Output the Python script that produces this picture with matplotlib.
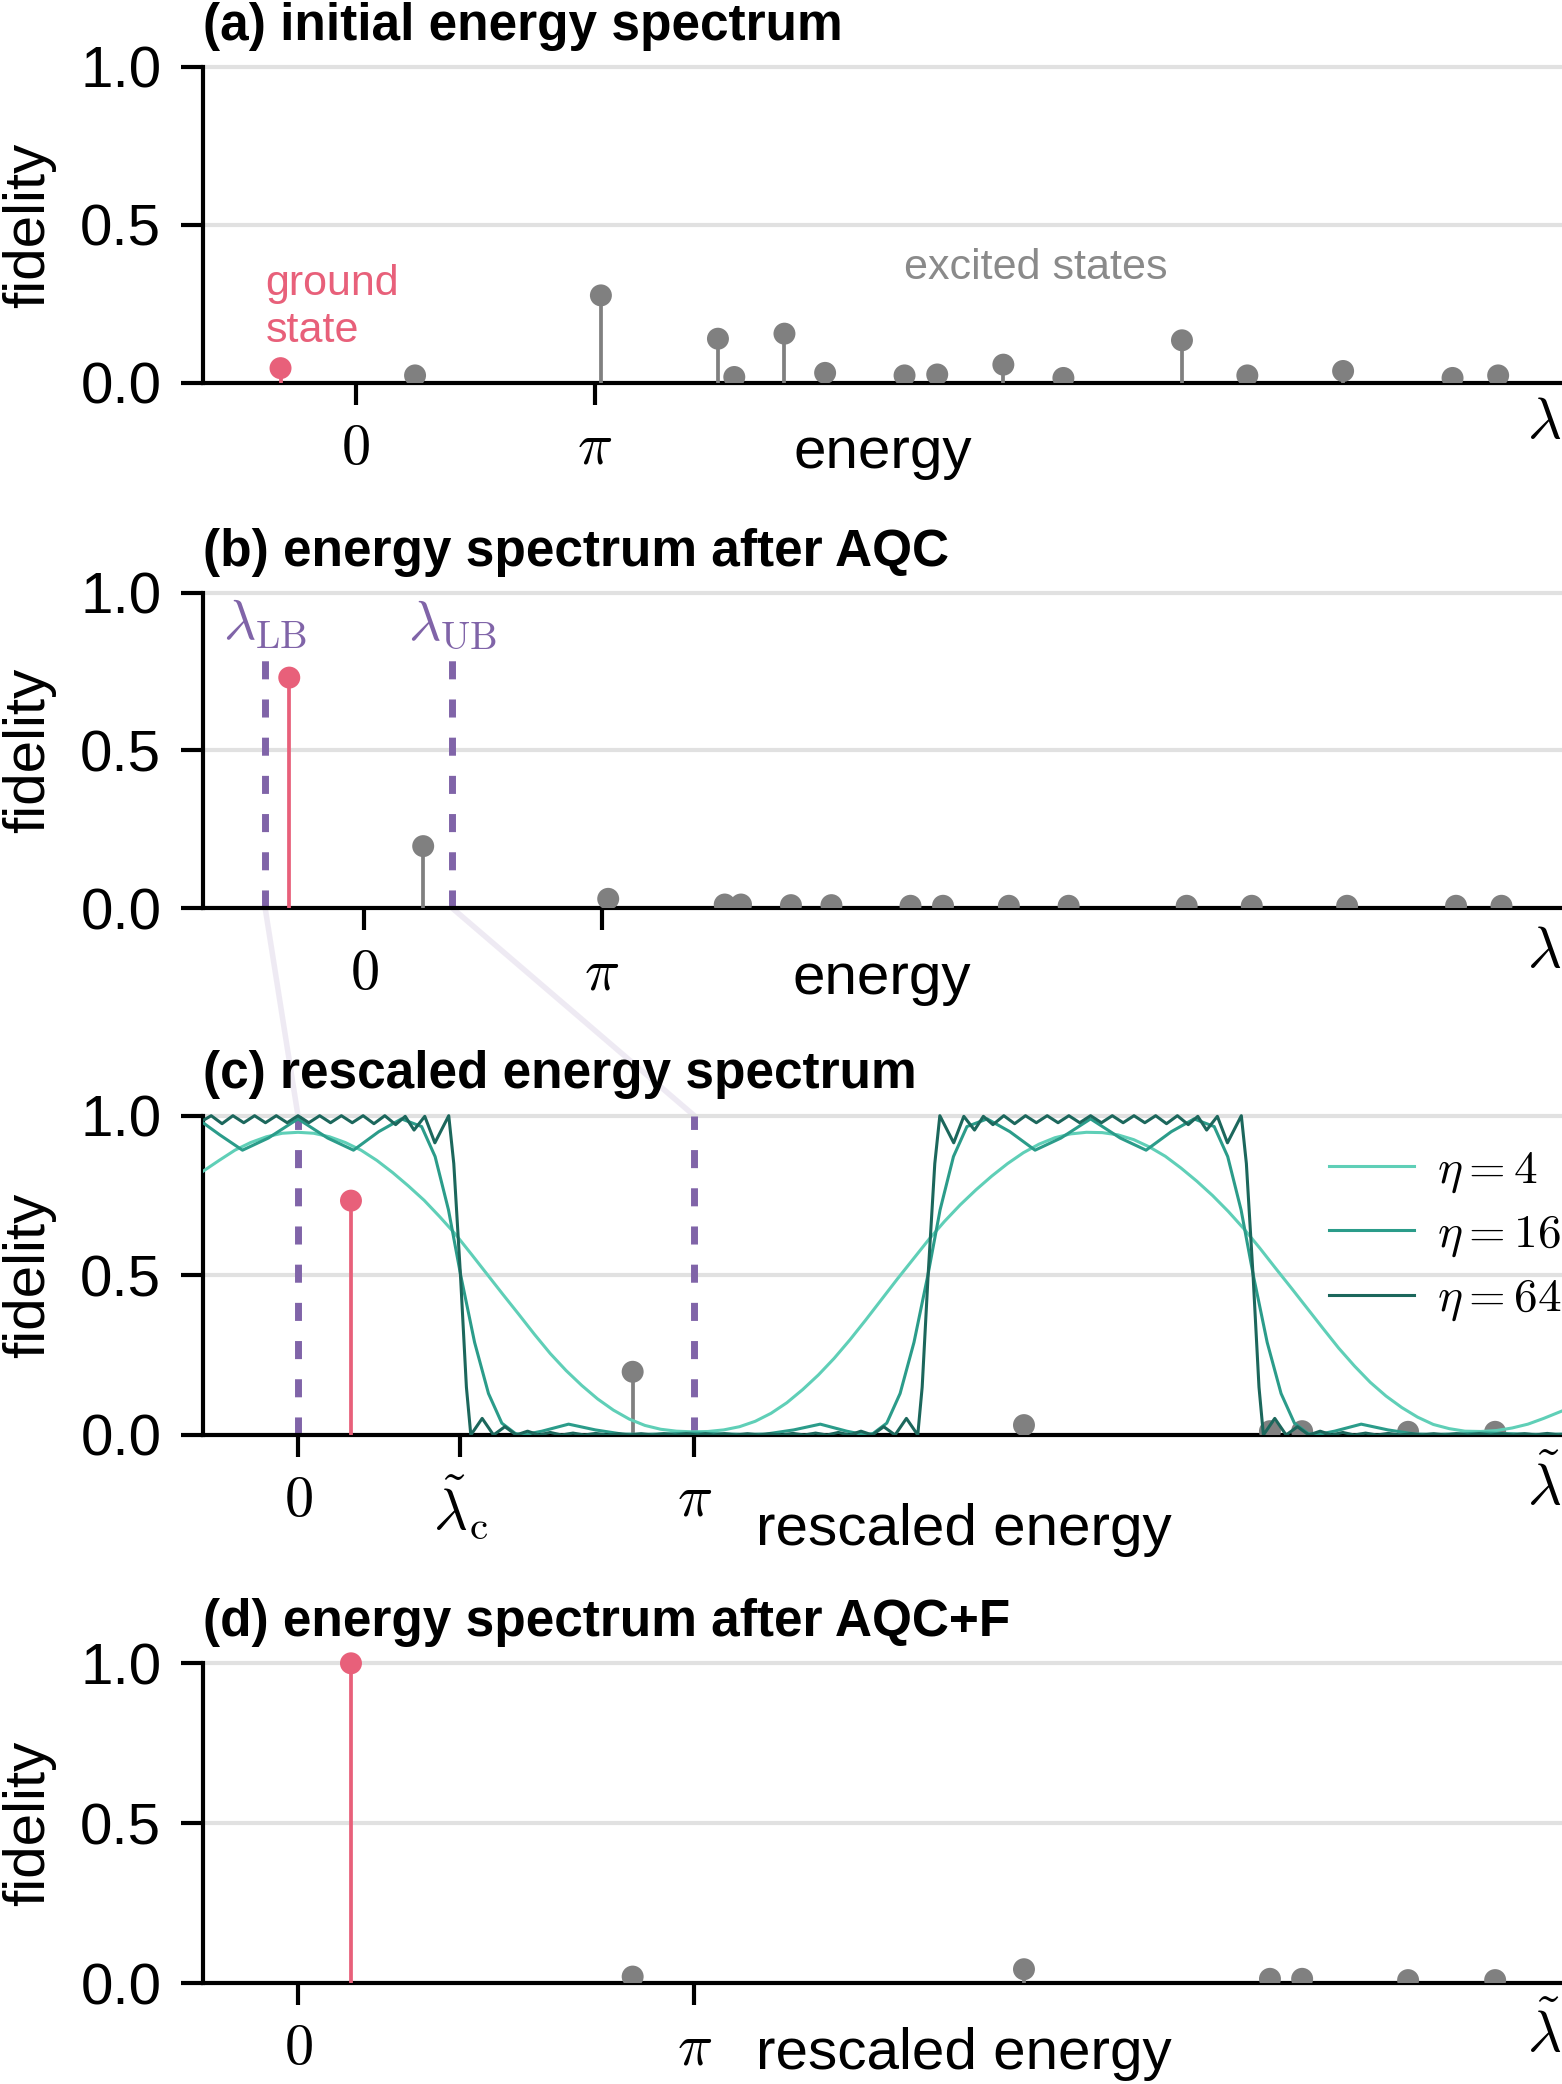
"""Energy spectra before/after AQC and filtering (matplotlib, Agg backend)."""
import numpy as np
import matplotlib

matplotlib.use("Agg")
import matplotlib.pyplot as plt  # noqa: E402
from matplotlib.patches import ConnectionPatch  # noqa: E402
from matplotlib.transforms import blended_transform_factory  # noqa: E402

plt.rcParams["font.family"] = ["Liberation Sans", "DejaVu Sans"]
plt.rcParams["mathtext.fontset"] = "cm"

# ---- data ------------------------------------------------------------------
# eigenvalues of H (panels a, b); index 0 is the ground state
energy = [-0.99, 0.78, 3.225, 4.765, 4.98, 5.64, 6.175, 7.22, 7.65, 8.52,
          9.31, 10.87, 11.73, 12.99, 14.43, 15.03]
fid_initial = [0.047, 0.024, 0.277, 0.14, 0.019, 0.156, 0.032, 0.024, 0.027,
               0.058, 0.016, 0.135, 0.024, 0.038, 0.016, 0.024]
fid_aqc = [0.731, 0.197, 0.03, 0.012, 0.012, 0.01, 0.01, 0.008, 0.008, 0.008,
           0.008, 0.008, 0.008, 0.008, 0.008, 0.008]
lam_bounds = [-1.308, 1.167]          # lambda_LB, lambda_UB
lam_bound_top = 0.79

# rescaled eigenvalues inside the window (panels c, d)
energy_rescaled = [0.42, 2.653, 5.755, 7.705, 7.96, 8.80, 9.49]
fid_rescaled = [0.734, 0.198, 0.031, 0.012, 0.012, 0.01, 0.01]
fid_filtered = [1.0, 0.021, 0.044, 0.014, 0.014, 0.01, 0.01]
rescaled_bounds = [0.0, np.pi]
lam_c = 1.288

# filter functions
eta4_x = [-0.753, -0.625, -0.5, -0.375, -0.25, -0.125, 0.0, 0.125, 0.25,
          0.375, 0.5, 0.625, 0.75, 0.875, 1.0, 1.125, 1.25, 1.375, 1.5,
          1.625, 1.75, 1.875, 2.0, 2.125, 2.25, 2.375, 2.5, 2.625, 2.75,
          2.875, 3.0, 3.125, 3.25, 3.375, 3.5, 3.625, 3.75, 3.875, 4.0,
          4.125, 4.25, 4.375, 4.5, 4.625, 4.75, 4.875, 5.0, 5.125, 5.25,
          5.375, 5.5, 5.625, 5.75, 5.875, 6.0, 6.125, 6.25, 6.375, 6.5,
          6.625, 6.75, 6.875, 7.0, 7.125, 7.25, 7.375, 7.5, 7.625, 7.75,
          7.875, 8.0, 8.125, 8.25, 8.375, 8.5, 8.625, 8.75, 8.875, 9.0,
          9.125, 9.25, 9.375, 9.5, 9.625, 9.75, 9.875, 10.0, 10.05]
eta4_y = [0.826, 0.86, 0.892, 0.916, 0.934, 0.945, 0.948, 0.945, 0.934,
          0.916, 0.892, 0.86, 0.822, 0.78, 0.735, 0.683, 0.628, 0.566, 0.503,
          0.44, 0.378, 0.315, 0.255, 0.202, 0.155, 0.113, 0.078, 0.05, 0.03,
          0.018, 0.012, 0.01, 0.011, 0.016, 0.026, 0.043, 0.068, 0.101,
          0.142, 0.188, 0.24, 0.298, 0.36, 0.424, 0.488, 0.55, 0.612, 0.669,
          0.721, 0.768, 0.811, 0.85, 0.884, 0.911, 0.931, 0.943, 0.948,
          0.947, 0.94, 0.925, 0.902, 0.873, 0.836, 0.795, 0.75, 0.70, 0.645,
          0.585, 0.522, 0.46, 0.397, 0.334, 0.272, 0.216, 0.165, 0.122,
          0.086, 0.056, 0.033, 0.02, 0.012, 0.011, 0.014, 0.022, 0.034,
          0.052, 0.072, 0.08]

eta16_x = [-0.753, -0.62, -0.44, -0.235, 0.0, 0.235, 0.44, 0.64, 0.82, 0.98,
           1.087, 1.193, 1.29, 1.40, 1.51, 1.616, 1.722, 1.78, 1.934, 2.145,
           2.357, 2.569, 2.75, 2.95, 3.14, 3.33, 3.53, 3.71, 3.93, 4.14, 4.35,
           4.50, 4.56, 4.667, 4.773, 4.883, 4.993, 5.09, 5.196, 5.303, 5.463,
           5.643, 5.843, 6.048, 6.283, 6.518, 6.723, 6.923, 7.103, 7.263,
           7.37, 7.476, 7.573, 7.683, 7.793, 7.899, 8.005, 8.063, 8.217,
           8.428, 8.64, 8.852, 9.03, 9.23, 9.42, 9.61, 9.81, 10.05]
eta16_y = [0.978, 0.94, 0.892, 0.93, 0.99, 0.93, 0.892, 0.95, 0.99, 0.966,
           0.872, 0.705, 0.5, 0.29, 0.13, 0.037, 0.005, 0.0, 0.012, 0.034,
           0.016, 0.003, 0.002, 0.004, 0.006, 0.004, 0.002, 0.003, 0.016,
           0.034, 0.012, 0.0, 0.005, 0.037, 0.13, 0.29, 0.5, 0.705, 0.872,
           0.966, 0.99, 0.95, 0.892, 0.93, 0.99, 0.93, 0.892, 0.95, 0.99,
           0.966, 0.872, 0.705, 0.5, 0.29, 0.13, 0.037, 0.005, 0.0, 0.012,
           0.034, 0.016, 0.003, 0.002, 0.004, 0.006, 0.004, 0.002, 0.003]

eta64_x = [-0.753, -0.688, -0.602, -0.516, -0.43, -0.344, -0.258, -0.172,
           -0.086, 0.0, 0.086, 0.172, 0.258, 0.344, 0.43, 0.516, 0.602, 0.688,
           0.774, 0.85, 0.92, 1.005, 1.085, 1.195, 1.235, 1.288, 1.335, 1.37,
           1.46, 1.55, 1.64, 1.73, 1.82, 1.91, 2.0, 2.09, 2.18, 2.27, 2.36,
           2.45, 2.54, 2.63, 2.72, 2.81, 2.9, 2.99, 3.08, 3.17, 3.23, 3.293,
           3.383, 3.473, 3.563, 3.653, 3.743, 3.833, 3.923, 4.013, 4.103,
           4.193, 4.283, 4.373, 4.463, 4.553, 4.643, 4.733, 4.823, 4.913,
           4.948, 4.995, 5.048, 5.088, 5.198, 5.278, 5.363, 5.433, 5.509,
           5.595, 5.681, 5.767, 5.853, 5.939, 6.025, 6.111, 6.197, 6.283,
           6.369, 6.455, 6.541, 6.627, 6.713, 6.799, 6.885, 6.971, 7.057,
           7.133, 7.203, 7.288, 7.368, 7.478, 7.518, 7.571, 7.618, 7.653,
           7.743, 7.833, 7.923, 8.013, 8.103, 8.193, 8.283, 8.373, 8.463,
           8.553, 8.643, 8.733, 8.823, 8.913, 9.003, 9.093, 9.183, 9.273,
           9.363, 9.453, 9.543, 9.633, 9.723, 9.813, 9.903, 9.993, 10.05]
eta64_y = [0.985, 1.0, 0.975, 1.0, 0.978, 1.0, 0.978, 1.0, 0.978, 1.0, 0.978,
           1.0, 0.978, 1.0, 0.978, 1.0, 0.975, 1.0, 0.972, 0.998, 0.955,
           0.998, 0.915, 1.0, 0.85, 0.5, 0.15, 0.0, 0.052, 0.0, 0.026, 0.0,
           0.012, 0.0, 0.008, 0.0, 0.006, 0.0, 0.005, 0.0, 0.004, 0.0, 0.004,
           0.0, 0.004, 0.0, 0.004, 0.0, 0.004, 0.0, 0.004, 0.0, 0.004, 0.0,
           0.004, 0.0, 0.005, 0.0, 0.006, 0.0, 0.008, 0.0, 0.012, 0.0, 0.026,
           0.0, 0.052, 0.0, 0.15, 0.5, 0.85, 1.0, 0.915, 0.998, 0.955, 0.998,
           0.972, 1.0, 0.975, 1.0, 0.978, 1.0, 0.978, 1.0, 0.978, 1.0, 0.978,
           1.0, 0.978, 1.0, 0.978, 1.0, 0.975, 1.0, 0.972, 0.998, 0.955,
           0.998, 0.915, 1.0, 0.85, 0.5, 0.15, 0.0, 0.052, 0.0, 0.026, 0.0,
           0.012, 0.0, 0.008, 0.0, 0.006, 0.0, 0.005, 0.0, 0.004, 0.0, 0.004,
           0.0, 0.004, 0.0, 0.004, 0.0, 0.004, 0.0, 0.004, 0.0, 0.005, 0.0,
           0.003]

eta_labels = [r"$\eta = 4$", r"$\eta = 16$", r"$\eta = 64$"]

RED = "#e8607a"
GRAY = "#808080"
PURPLE = "#8064a8"
ETA_COLORS = ["#5fcfb7", "#2b9c8a", "#1c675c"]

W, H = 1562, 2084
LEFT_PX = 203
FS = 42

fig = plt.figure(figsize=(W / 100, H / 100), dpi=100)
fig.patch.set_facecolor("white")


def add_panel(zero_px, unit_px, xlim, xticks, xticklabels, title):
    ax = fig.add_axes([LEFT_PX / W, (H - zero_px) / H,
                       1 - LEFT_PX / W, 1.1 * unit_px / H])
    ax.patch.set_alpha(0)
    ax.set_xlim(*xlim)
    ax.set_ylim(0, 1.1)
    for side in ("top", "right"):
        ax.spines[side].set_visible(False)
    ax.spines["left"].set_bounds(0, 1)
    ax.spines["left"].set_linewidth(3)
    ax.spines["bottom"].set_linewidth(3)
    ax.set_yticks([0, 0.5, 1.0])
    ax.set_yticklabels(["0.0", "0.5", "1.0"])
    ax.set_xticks(xticks)
    ax.set_xticklabels(xticklabels)
    ax.tick_params(length=16, width=3, labelsize=FS)
    ax.tick_params(axis="x", pad=12)
    ax.tick_params(axis="y", pad=14)
    ax.yaxis.grid(True, color="#e1e1e1", lw=3)
    ax.set_axisbelow(True)
    ax.set_ylabel("fidelity", fontsize=FS)
    ax.yaxis.set_label_coords(-0.108, 0.5 / 1.1)
    trans = blended_transform_factory(ax.transAxes, ax.transData)
    ax.text(0, 1.128, title, transform=trans, fontsize=37,
            fontweight="bold", ha="left", va="center")
    return ax


def stems(ax, x, y):
    colors = [RED] + [GRAY] * (len(x) - 1)
    ax.vlines(x, 0, y, colors=colors, lw=2.7, zorder=3)
    ax.scatter(x, y, s=250, c=colors, linewidths=0, zorder=4)


pi_ticks = [0, np.pi]
pi_labels = [r"$0$", r"$\pi$"]

# (a) initial energy spectrum
ax_a = add_panel(383.0, 316.3, (-2.01, 15.87), pi_ticks, pi_labels,
                 "(a) initial energy spectrum")
stems(ax_a, energy, fid_initial)
ax_a.text(-1.19, 0.131, "ground\nstate", color=RED, fontsize=31,
          ha="left", va="baseline", linespacing=1.22)
ax_a.text(8.945, 0.328, "excited states", color="#8a8a8a", fontsize=31,
          ha="center", va="baseline")
ax_a.text(6.93, -0.269, "energy", fontsize=FS, ha="center", va="baseline")
ax_a.text(15.64, -0.128, r"$\lambda$", fontsize=FS, ha="center",
          va="center")

# (b) energy spectrum after AQC
ax_b = add_panel(908.3, 315.6, (-2.13, 15.83), pi_ticks, pi_labels,
                 "(b) energy spectrum after AQC")
stems(ax_b, energy, fid_aqc)
ax_b.vlines(lam_bounds, 0, lam_bound_top, colors=PURPLE, lw=5,
            linestyles=[(0, (2.6, 2.9))], zorder=2)
for xb, lab in zip(lam_bounds, [r"$\lambda_{\rm LB}$", r"$\lambda_{\rm UB}$"]):
    ax_b.text(xb, 0.898, lab, color=PURPLE, fontsize=40, ha="center",
              va="center")
ax_b.text(6.84, -0.273, "energy", fontsize=FS, ha="center", va="baseline")
ax_b.text(15.59, -0.138, r"$\lambda$", fontsize=FS, ha="center",
          va="center")

# (c) rescaled energy spectrum with filter functions
resc_xlim = (-0.753, 10.02)
ax_c = add_panel(1435.0, 319.3, resc_xlim, [0, lam_c, np.pi],
                 [r"$0$", r"$\tilde{\lambda}_{\rm c}$", r"$\pi$"],
                 "(c) rescaled energy spectrum")
ax_c.vlines(rescaled_bounds, 0, 1.0, colors=PURPLE, lw=5,
            linestyles=[(0, (2.6, 2.9))], zorder=2)
for xs, ys, c, lab in zip([eta4_x, eta16_x, eta64_x],
                          [eta4_y, eta16_y, eta64_y], ETA_COLORS, eta_labels):
    ax_c.plot(xs, ys, color=c, lw=2.2, label=lab, zorder=5)
stems(ax_c, energy_rescaled, fid_rescaled)
ax_c.legend(loc="upper left", bbox_to_anchor=(0.8283, 0.815), frameon=False,
            fontsize=34, handlelength=1.8, handletextpad=0.5,
            labelspacing=0.38, borderpad=0, borderaxespad=0)
ax_c.text(5.28, -0.345, "rescaled energy", fontsize=FS, ha="center",
          va="baseline")
ax_c.text(9.88, -0.165, r"$\tilde{\lambda}$", fontsize=FS, ha="center",
          va="center")

# (d) energy spectrum after AQC+F
ax_d = add_panel(1983.3, 320.0, resc_xlim, pi_ticks, pi_labels,
                 "(d) energy spectrum after AQC+F")
stems(ax_d, energy_rescaled, fid_filtered)
ax_d.text(5.28, -0.267, "rescaled energy", fontsize=FS, ha="center",
          va="baseline")
ax_d.text(9.88, -0.16, r"$\tilde{\lambda}$", fontsize=FS, ha="center",
          va="center")

# zoom lines from the AQC window onto the rescaled axis
for xb, xc in zip(lam_bounds, rescaled_bounds):
    con = ConnectionPatch(xyA=(xb, 0), coordsA=ax_b.transData,
                          xyB=(xc, 1.0), coordsB=ax_c.transData,
                          color=PURPLE, alpha=0.13, lw=4, zorder=-1)
    fig.add_artist(con)

fig.savefig("out.png", dpi=100, facecolor="white")
plt.close(fig)
